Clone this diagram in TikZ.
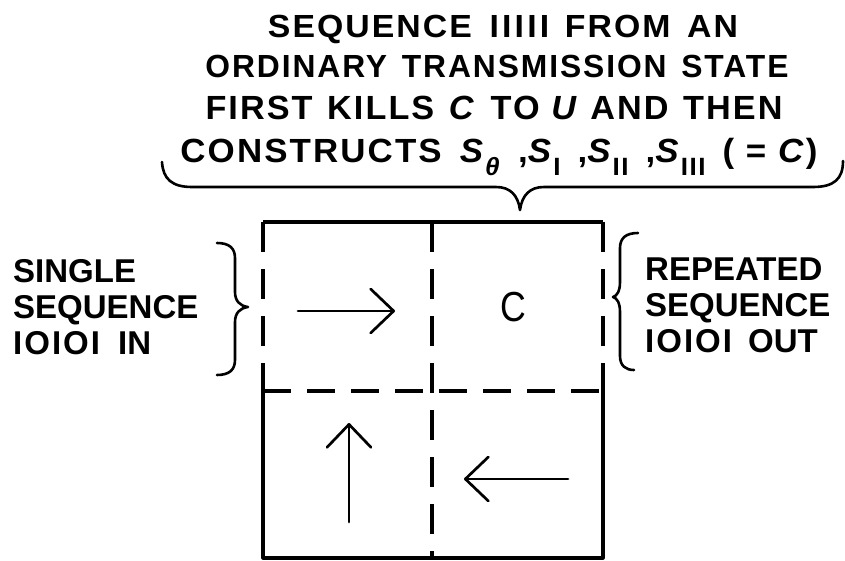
\documentclass[tikz,border=0pt]{standalone}
\usepackage{graphicx}
\usepackage{fontspec}
\setmainfont{Liberation Sans}
\newfontfamily\titlefont{Liberation Sans}[LetterSpace=6]
\usetikzlibrary{arrows.meta}

% lowered subscript in the heading
\newcommand{\lowsub}[1]{\raisebox{-13pt}{\fontsize{25}{25}\selectfont #1}}
% heading line stretched to a given width
\newcommand{\headline}[2]{\resizebox{#1}{\height}{#2}}

\tikzset{
  heading/.style={inner sep=0pt, anchor=base,
    font=\titlefont\bfseries\fontsize{32}{36}\selectfont},
  headingtall/.style={heading,
    font=\titlefont\bfseries\fontsize{33.5}{36}\selectfont},
  sidetext/.style={inner sep=0pt, anchor=base west,
    font=\bfseries\fontsize{33}{36}\selectfont},
  frame/.style={line width=3.2pt, line cap=butt},
  dashedframe/.style={frame, dash pattern=on 30pt off 17pt},
  dashedcross/.style={frame, dash pattern=on 28pt off 16pt},
  flow/.style={line width=2.7pt, line cap=round,
    -{Straight Barb[length=23pt,width=44pt,line cap=round,round]}},
  bracket/.style={line width=2.6pt, line cap=round, line join=round},
}

\begin{document}
\begin{tikzpicture}[x=1pt,y=-1pt]
\useasboundingbox (0,0) rectangle (845,561);

% heading
\node[heading] (h1) at (503,38)
  {\headline{470pt}{SEQUENCE\hspace{6pt} I\kern3pt I\kern3pt I\kern3pt I\kern3pt I\hspace{4pt} FROM\hspace{5pt} AN}};
\node[heading] (h2) at (497,78)
  {\headline{583pt}{ORDINARY\hspace{4pt} TRANSMISSION\hspace{4pt} STATE}};
\node[headingtall] (h3) at (494,120)
  {\headline{577pt}{FIRST\hspace{3pt} KILLS\hspace{3pt} \textit{C}\hspace{3pt} TO \textit{U} AND\hspace{3pt} THEN}};
\node[headingtall] (h4) at (499,163)
  {\headline{637pt}{CONSTRUCTS\hspace{6pt} \textit{S}\lowsub{\textit{θ}}\hspace{5pt} ,\textit{S}\lowsub{I}\hspace{5pt} ,\textit{S}\lowsub{II}\hspace{5pt} ,\textit{S}\lowsub{III}\hspace{5pt} ( = \textit{C})}};

% brace under the heading
\draw[bracket] (162,162) .. controls (163,179) and (172,187) .. (192,187)
  -- (496,187) .. controls (510,187) and (518,195) .. (520,210)
  .. controls (522,195) and (530,187) .. (544,187)
  -- (813,187) .. controls (834,187) and (843,179) .. (843,161);

% side labels
\node[sidetext] (in1) at (13,282) {SINGLE};
\node[sidetext] (in2) at (13,318) {SEQUENCE};
\node[sidetext] (in3) at (13,354) {I\kern2pt O\kern2pt I\kern2pt O\kern2pt I\hspace{9pt} IN};
\node[sidetext] (out1) at (645,280) {REPEATED};
\node[sidetext] (out2) at (645,316) {SEQUENCE};
\node[sidetext] (out3) at (645,352) {I\kern2pt O\kern2pt I\kern2pt O\kern2pt I\hspace{7pt} OUT};

% side braces
\draw[bracket] (217,243) .. controls (229,243) and (235,248) .. (235,258)
  -- (235,292) .. controls (235,301) and (240,306) .. (248,307)
  .. controls (240,308) and (235,313) .. (235,322)
  -- (235,360) .. controls (235,370) and (229,375) .. (217,375);
\draw[bracket] (638,233) .. controls (626,233) and (620,238) .. (620,248)
  -- (620,282) .. controls (620,291) and (617,296) .. (613,297)
  .. controls (617,298) and (620,303) .. (620,312)
  -- (620,356) .. controls (620,366) and (626,370) .. (634,370);

% cell grid
\coordinate (tl) at (263,222);
\coordinate (tr) at (603,222);
\coordinate (bl) at (263,558);
\coordinate (br) at (603,558);
\coordinate (ml) at (263,391);
\coordinate (mr) at (603,391);
\coordinate (mt) at (432,222);
\coordinate (mb) at (432,558);

\draw[frame, line join=round] (ml) -- (bl) -- (br) -- (mr);
\draw[frame, line join=round] (tl) -- (tr);
\draw[dashedframe] (tl) -- (ml);
\draw[dashedframe] (tr) -- (mr);
\draw[dashedframe] (mt) -- (mb);
\draw[dashedcross] (ml) -- (mr);

% flow arrows and the cell letter
\coordinate (a1s) at (298,311); \coordinate (a1e) at (395,311);
\coordinate (a2s) at (349,522); \coordinate (a2e) at (349,423);
\coordinate (a3s) at (568,479); \coordinate (a3e) at (464,479);
\draw[flow] (a1s) -- (a1e);
\draw[flow] (a2s) -- (a2e);
\draw[flow] (a3s) -- (a3e);
\node[inner sep=0pt, font=\fontsize{42}{42}\selectfont] (cell) at (513,307) {\scalebox{0.85}[1]{C}};
\end{tikzpicture}
\end{document}
